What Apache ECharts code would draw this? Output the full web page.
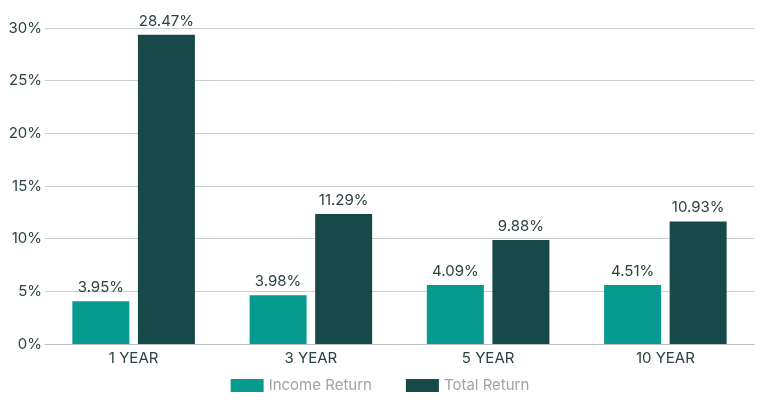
<!DOCTYPE html>
<html>
<head>
<meta charset="utf-8">
<style>
  html, body { margin: 0; padding: 0; background: #ffffff; }
  #chart { width: 760px; height: 403px; }
</style>
<script src="https://cdn.jsdelivr.net/npm/echarts@6/dist/echarts.min.js"></script>
</head>
<body>
<div id="chart"></div>
<script>
// 数据
const categories = ['1 YEAR', '3 YEAR', '5 YEAR', '10 YEAR'];
const seriesNames = ['Income Return', 'Total Return'];
// bar heights as drawn in the picture
const incomeValues = [4.05, 4.62, 5.6, 5.6];
const totalValues = [29.37, 12.35, 9.88, 11.64];
// printed labels
const incomeLabels = ['3.95%', '3.98%', '4.09%', '4.51%'];
const totalLabels = ['28.47%', '11.29%', '9.88%', '10.93%'];
const yTicks = [0, 5, 10, 15, 20, 25, 30];

const FONT = 'Inter';
const chart = echarts.init(document.getElementById('chart'));

function barSeries(name, values, labels, color) {
    return {
        name: name,
        type: 'bar',
        data: values,
        barWidth: 57,
        barGap: '15%',
        itemStyle: { color: color },
        label: {
            show: true,
            position: 'top',
            distance: 6,
            color: '#2a4242',
            fontFamily: FONT,
            fontSize: 15,
            formatter: p => labels[p.dataIndex]
        }
    };
}

chart.setOption({
    animation: false,
    grid: { left: 45, right: 6, top: 28, bottom: 59 },
    legend: {
        bottom: 5,
        left: 'center',
        itemWidth: 33,
        itemHeight: 13,
        itemGap: 34,
        icon: 'rect',
        textStyle: { color: '#a3a3a3', fontFamily: FONT, fontSize: 15 },
        data: seriesNames
    },
    xAxis: {
        type: 'category',
        data: categories,
        axisTick: { show: false },
        axisLine: { lineStyle: { color: '#b9c2c2' } },
        axisLabel: { color: '#2a4242', fontFamily: FONT, fontSize: 15, margin: 7 }
    },
    yAxis: {
        type: 'value',
        min: yTicks[0],
        max: yTicks[yTicks.length - 1],
        interval: 5,
        axisLine: { show: false },
        axisTick: { show: false },
        splitLine: { lineStyle: { color: '#c9d0d0' } },
        axisLabel: { color: '#2a4242', fontFamily: FONT, fontSize: 15, margin: 3, formatter: '{value}%' }
    },
    series: [
        barSeries(seriesNames[0], incomeValues, incomeLabels, '#079a8f'),
        barSeries(seriesNames[1], totalValues, totalLabels, '#174949')
    ]
});
</script>
</body>
</html>
